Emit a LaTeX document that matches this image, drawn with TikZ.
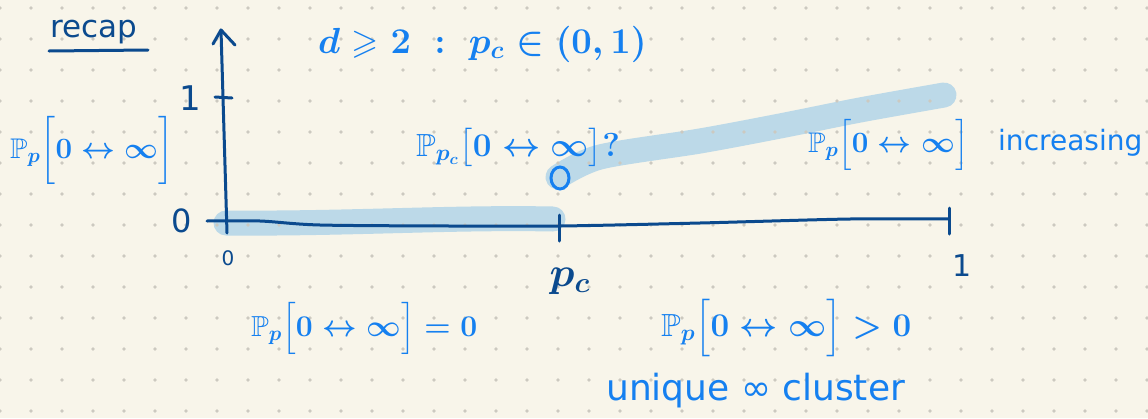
\documentclass[tikz,border=0pt]{standalone}
\usepackage{amsmath,amssymb}
\usepackage{graphicx}
\usepackage{fontspec}
\setmainfont{DejaVu Sans}
\usetikzlibrary{shapes.geometric}
\definecolor{bg}{HTML}{F8F5EA}
\definecolor{dotc}{HTML}{CCC9C0}
\definecolor{navy}{HTML}{0B4A8E}
\definecolor{bluea}{HTML}{1580F0}
\definecolor{hlc}{HTML}{BCD9E8}
\tikzset{
  axisline/.style={draw=navy, line width=3pt, line cap=round, line join=round},
  hlstroke/.style={draw=hlc, line width=25pt, line cap=round, line join=round},
  navytxt/.style={text=navy, inner sep=0pt},
  bluetxt/.style={text=bluea, inner sep=0pt},
}
\newcommand{\fs}[1]{\fontsize{#1}{#1}\selectfont}
\newcommand{\scm}[2]{\scalebox{#1}{\fs{20}\mathversion{bold}$#2$}}
\begin{document}
\begin{tikzpicture}[x=1pt,y=-1pt]
\fill[bg] (0,0) rectangle (1148,418);
\useasboundingbox (0,0) rectangle (1148,418);
% highlights
\draw[hlstroke] (226,223) .. controls (350,224) and (450,217) .. (553,219);
\draw[hlstroke] plot[smooth] coordinates {(558,177) (600,157) (700,141) (780,126) (860,110) (944,95)};
% dot grid
\foreach \i in {0,...,37} {
  \foreach \j in {0,...,13} {
    \fill[dotc] (31*\i, 8+31*\j) circle (1.8);
  }
}
% axes
\coordinate (ybot) at (227,233);
\coordinate (ytop) at (221,30);
\coordinate (al) at (213,44);
\coordinate (ar) at (235,45);
\coordinate (xl) at (207,221);
\coordinate (xr) at (949,219);
\draw[axisline] (ybot) -- (ytop);
\draw[axisline] (al) -- (ytop) -- (ar);
\draw[axisline] plot[smooth] coordinates {(xl) (260,221) (320,225) (450,226) (560,226) (700,223) (850,219) (xr)};
\coordinate (t1a) at (215,97); \coordinate (t1b) at (232,98);
\draw[axisline] (t1a) -- (t1b);
\coordinate (tpa) at (559,215); \coordinate (tpb) at (559,241);
\draw[axisline] (tpa) -- (tpb);
\coordinate (tea) at (949,208); \coordinate (teb) at (949,234);
\draw[axisline] (tea) -- (teb);
% axis labels
\node[navytxt, font=\fs{32}] (y0) at (182,221) {0};
\node[navytxt, font=\fs{34}] (y1) at (190,98) {1};
\node[navytxt, font=\fs{20}] (x0) at (228,258) {0};
\node[navytxt] (xpc) at (570,281) {\scm{2}{p_c}};
\node[navytxt, font=\fs{30}] (x1) at (962,266) {1};
% recap
\node[navytxt, anchor=base west, font=\fs{31}] (recap) at (50,37) {recap};
\coordinate (ula) at (49,51); \coordinate (ulb) at (148,50);
\draw[axisline] (ula) -- (ulb);
% open circle
\node[draw=bluea, line width=3pt, ellipse, minimum width=18pt, minimum height=22pt, inner sep=0pt] (oc) at (560,178) {};
% blue texts
\node[bluetxt, anchor=base west] (dcond) at (318,53) {\scm{1.75}{d\geqslant 2\;:\; p_c\in(0,1)}};
\node[bluetxt, anchor=base west] (lab) at (10,158) {\scm{1.42}{\mathbb{P}_p\biggl[0\leftrightarrow\infty\biggr]}};
\node[bluetxt, anchor=base west] (mid) at (416,156) {\scm{1.6}{\mathbb{P}_{p_c}\bigl[0\leftrightarrow\infty\bigr]?}};
\node[bluetxt, anchor=base west] (rgt) at (808,152) {\scm{1.42}{\mathbb{P}_p\Bigl[0\leftrightarrow\infty\Bigr]}};
\node[bluetxt, anchor=base west, font=\fs{28}] (incr) at (998,150) {increasing};
\node[bluetxt, anchor=base west] (bl) at (251,336) {\scm{1.45}{\mathbb{P}_p\Bigl[0\leftrightarrow\infty\Bigr]=0}};
\node[bluetxt, anchor=base west] (br) at (661,336) {\scm{1.6}{\mathbb{P}_p\Bigl[0\leftrightarrow\infty\Bigr]>0}};
\node[bluetxt, anchor=base west, font=\fs{36}] (uniq) at (606,400) {unique ∞ cluster};
\end{tikzpicture}
\end{document}
